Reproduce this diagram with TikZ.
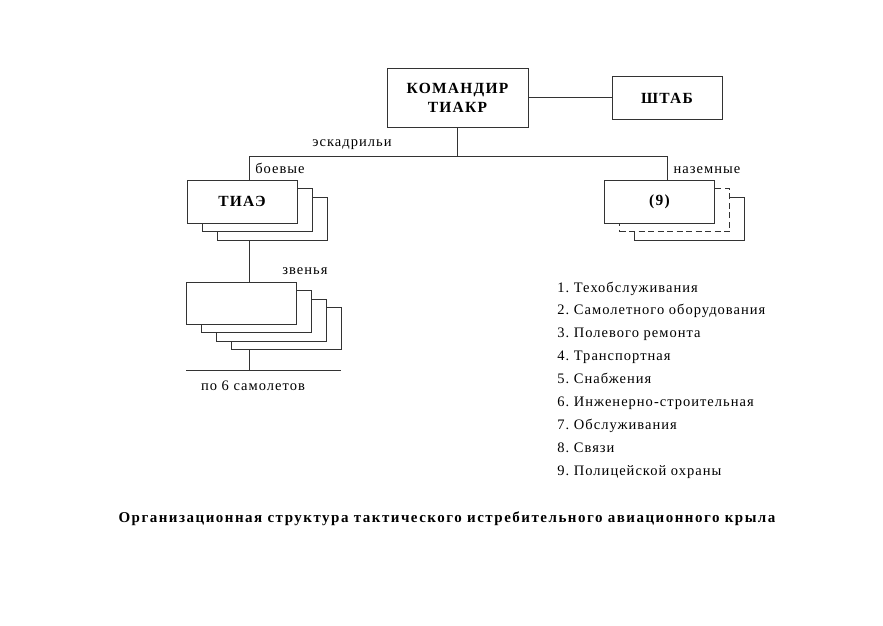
\documentclass[tikz,border=0pt]{standalone}
\usepackage{fontspec}
\setmainfont{Liberation Serif}
\newfontfamily\spacedfont[LetterSpace=7]{Liberation Serif}
\newfontfamily\boxfont[LetterSpace=8]{Liberation Serif}
\newfontfamily\captionfont[LetterSpace=10]{Liberation Serif}
\usepackage{tikz}
\usetikzlibrary{calc,positioning}

\begin{document}
\begin{tikzpicture}[x=1pt,y=-1pt,line width=0.8pt,draw=black!80,
  box/.style={draw,fill=white,minimum width=110pt,minimum height=43pt,inner sep=0pt,
    align=center,font=\boxfont\bfseries\fontsize{15.5}{19}\selectfont},
  longdash/.style={dash pattern=on 6pt off 3.5pt},
  lbl/.style={inner sep=0pt,font=\spacedfont\fontsize{14.5}{16}\selectfont}]
  \useasboundingbox (0,0) rectangle (883,625);

  % top level
  \node[box,minimum width=141pt,minimum height=59pt] (cmd) at (457.5,97.5) {КОМАНДИР\\ТИАКР};
  \node[box] (shtab) at (667,98) {ШТАБ};

  % squadrons
  \coordinate (tiaepos) at (242,201.5);
  \foreach \i in {2,1}
    \node[box] (tiae-\i) at ($(tiaepos)+(15*\i,8.5*\i)$) {};
  \node[box] (tiae) at (tiaepos) {ТИАЭ};

  \coordinate (groundpos) at (659.5,201.5);
  \foreach \i/\st in {2/solid,1/longdash}
    \node[box,\st] (ground-\i) at ($(groundpos)+(15*\i,8.5*\i)$) {};
  \node[box] (ground) at (groundpos) {(9)};

  % flights
  \coordinate (zvenopos) at (241.5,303);
  \foreach \i in {3,2,1}
    \node[box,minimum height=42pt] (zveno-\i) at ($(zvenopos)+(15*\i,8.5*\i)$) {};
  \node[box,minimum height=42pt] (zveno) at (zvenopos) {};

  % connectors
  \coordinate (fork) at (457.5,156);
  \coordinate (left) at (249,156);
  \coordinate (right) at (667,156);
  \coordinate (base) at (249,370);
  \coordinate (baseL) at (186,370);
  \coordinate (baseR) at (341,370);
  \draw (cmd.east) -- (cmd.east -| shtab.west);
  \draw (cmd.south) -- (fork);
  \draw (tiae.north -| left) -- (left) -- (right) -- (ground.north -| right);
  \draw (tiae-2.south -| left) -- (zveno.north -| left);
  \draw (zveno-3.south -| base) -- (base);
  \draw (baseL) -- (baseR);

  % labels
  \node[lbl,anchor=base] (esk) at (352,146.5) {эскадрильи};
  \node[lbl,anchor=base] (boev) at (280,173.5) {боевые};
  \node[lbl,anchor=base] (nazem) at (707,173.5) {наземные};
  \node[lbl,anchor=base] (zven) at (305,274.5) {звенья};
  \node[lbl,anchor=base] (samol) at (253,390.5) {по 6 самолетов};

  % list of ground squadrons
  \foreach \t [count=\i] in {Техобслуживания,Самолетного оборудования,Полевого ремонта,
      Транспортная,Снабжения,Инженерно-строительная,Обслуживания,Связи,Полицейской охраны}
    \node[lbl,anchor=base west] (item-\i) at (557,{292+22.9*(\i-1)}) {\i.\ \t};

  \node[inner sep=0pt,anchor=base,font=\captionfont\bfseries\fontsize{15}{17}\selectfont] (title) at (447,522)
    {Организационная структура тактического истребительного авиационного крыла};
\end{tikzpicture}
\end{document}
